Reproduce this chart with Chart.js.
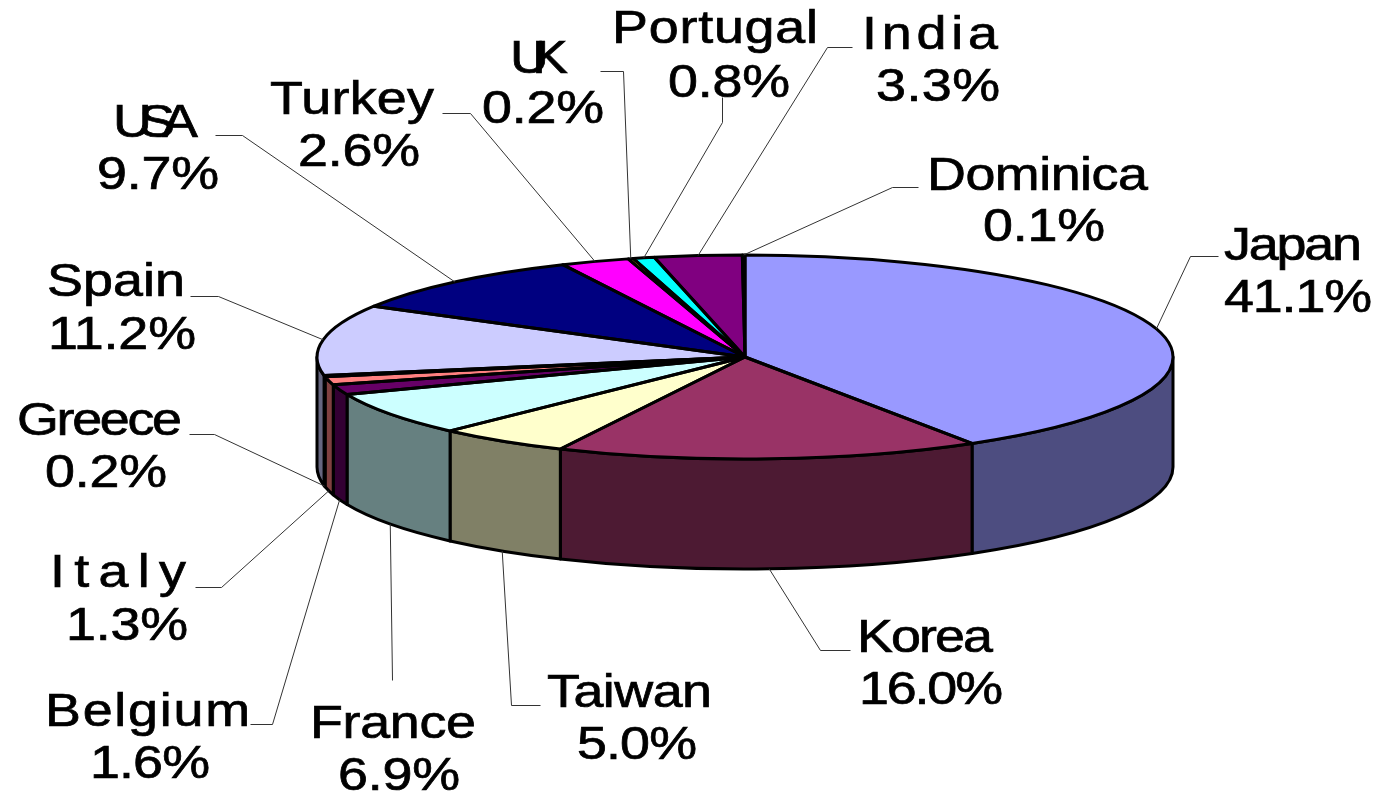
<!DOCTYPE html>
<html>
<head>
<meta charset="utf-8">
<style>
html,body{margin:0;padding:0;background:#fff;overflow:hidden}
canvas{display:block}
</style>
<script src="https://cdn.jsdelivr.net/npm/chart.js@4"></script>
</head>
<body>
<canvas id="c" width="1379" height="794"></canvas>
<script>
const categories = ["Japan","Korea","Taiwan","France","Belgium","Italy","Greece","Spain","USA","Turkey","UK","Portugal","India","Dominica"];
const shares = [41.1,16.0,5.0,6.9,1.6,1.3,0.2,11.2,9.7,2.6,0.2,0.8,3.3,0.1];
const sliceColors = ["#9999FF","#993366","#FFFFCC","#CCFFFF","#660066","#FF8080","#0066CC","#CCCCFF","#000080","#FF00FF","#FFFF00","#00FFFF","#800080","#800000"];

// layout only
const PIE = {cx:745, cy:357, rx:428, ry:102, depth:110};
const FONT = '46px "Liberation Sans", Arial, sans-serif';
const TEXT_WIDEN = 1.17;
// [name left, name right, name baseline, pct left, pct right, pct baseline]
const labelBoxes = [
 [1224,1362,260,1224,1372,312],[857,993,652,859,1003,704],[547,712,707,577,697,759],
 [310,476,738,338,460,790],[45,250,726,90,210,778],[50,186,587,66,188,640],
 [17,182,435,45,167,487],[47,185,296,48,196,349],[113,198,137,97,219,189],
 [270,434,114,298,420,166],[510,568,73,482,604,123],[612,818,43,668,790,97],
 [862,998,49,876,1000,101],[927,1148,190,983,1105,241]
];
// leader route from the slice edge: elbow, then end
const leaders = [
 [[1190,256],[1218,256]],[[820,650],[850,650]],[[511,705],[540,705]],[[392,680]],
 [[272,724],[250,724]],[[221,587],[195,587]],[[214,434],[189,434]],[[218,296],[190,296]],
 [[242,135],[215,135]],[[470,113],[442,113]],[[623,71],[600,71]],[[722,122],[722,97]],
 [[827,47],[852,47]],[[892,187],[918,187]]
];

function halve(hex){
  const n=parseInt(hex.slice(1),16);
  const h=v=>Math.round(v/2);
  return `rgb(${h(n>>16&255)},${h(n>>8&255)},${h(n&255)})`;
}
function edge(t,drop){
  return [PIE.cx+PIE.rx*Math.cos(t), PIE.cy+PIE.ry*Math.sin(t)+(drop||0)];
}
function isFront(t){ return Math.sin(t)>0; }

const pie3d = {
  id:'pie3d',
  beforeDatasetsDraw(chart){
    const ctx=chart.ctx, arcs=chart.getDatasetMeta(0).data;
    ctx.save();
    ctx.lineWidth=3; ctx.strokeStyle='#000'; ctx.lineJoin='round';
    arcs.forEach((arc,i)=>{
      const a=Math.max(arc.startAngle,0), b=Math.min(arc.endAngle,Math.PI);
      if(b<=a) return;
      ctx.beginPath();
      ctx.ellipse(PIE.cx,PIE.cy,PIE.rx,PIE.ry,0,a,b);
      ctx.ellipse(PIE.cx,PIE.cy+PIE.depth,PIE.rx,PIE.ry,0,b,a,true);
      ctx.closePath();
      ctx.fillStyle=halve(sliceColors[i]);
      ctx.fill(); ctx.stroke();
    });
    ctx.restore();
    // squash the library's round pie into the tilted ellipse
    const r=arcs[0];
    ctx.save();
    ctx.translate(PIE.cx,PIE.cy);
    ctx.scale(PIE.rx/r.outerRadius,PIE.ry/r.outerRadius);
    ctx.translate(-r.x,-r.y);
  },
  afterDatasetsDraw(chart){
    const ctx=chart.ctx, arcs=chart.getDatasetMeta(0).data;
    ctx.restore();
    ctx.save();
    ctx.lineWidth=3; ctx.strokeStyle='#000'; ctx.lineJoin='round';
    arcs.forEach(arc=>{
      ctx.beginPath();
      ctx.moveTo(PIE.cx,PIE.cy);
      ctx.ellipse(PIE.cx,PIE.cy,PIE.rx,PIE.ry,0,arc.startAngle,arc.endAngle);
      ctx.closePath();
      ctx.stroke();
    });
    ctx.restore();
    ctx.save();
    ctx.lineWidth=1; ctx.strokeStyle='#333';
    arcs.forEach((arc,i)=>{
      const mid=(arc.startAngle+arc.endAngle)/2;
      const p=edge(mid,isFront(mid)?PIE.depth:0);
      ctx.beginPath();
      ctx.moveTo(p[0],p[1]);
      leaders[i].forEach(q=>ctx.lineTo(q[0]+.5,q[1]+.5));
      ctx.stroke();
    });
    ctx.restore();
    ctx.save();
    ctx.fillStyle='#000'; ctx.strokeStyle='#000'; ctx.lineWidth=0.7;
    ctx.font=FONT; ctx.textAlign='left'; ctx.textBaseline='alphabetic';
    const put=(txt,l,r,y)=>{
      ctx.letterSpacing='0px';
      const w=ctx.measureText(txt).width;
      const s=((r-l)/TEXT_WIDEN-w)/(txt.length-1);
      ctx.letterSpacing=s.toFixed(2)+'px';
      ctx.save();
      ctx.translate(l,y);
      ctx.scale(TEXT_WIDEN,1);
      ctx.fillText(txt,0,0);
      ctx.strokeText(txt,0,0);
      ctx.restore();
    };
    categories.forEach((name,i)=>{
      const b=labelBoxes[i];
      put(name,b[0],b[1],b[2]);
      put(shares[i].toFixed(1)+'%',b[3],b[4],b[5]);
    });
    ctx.restore();
  }
};

new Chart(document.getElementById('c'),{
  type:'pie',
  data:{labels:categories,datasets:[{data:shares,backgroundColor:sliceColors,borderWidth:0,clip:false}]},
  options:{
    responsive:false,animation:false,
    layout:{padding:0},
    plugins:{legend:{display:false},tooltip:{enabled:false}}
  },
  plugins:[pie3d]
});
</script>
</body>
</html>
